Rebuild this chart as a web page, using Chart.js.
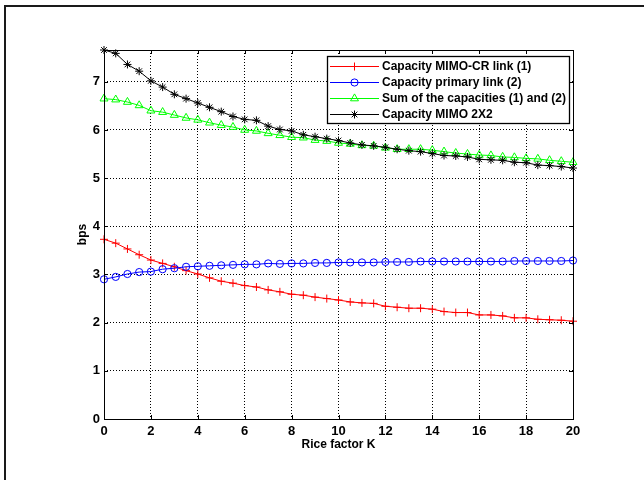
<!DOCTYPE html>
<html><head><meta charset="utf-8">
<script src="https://cdn.jsdelivr.net/npm/chart.js@4.4.1/dist/chart.umd.min.js"></script>
<style>html,body{margin:0;padding:0;background:#fff}canvas{display:block}</style>
</head><body>
<canvas id="c" width="644" height="480"></canvas>
<script>
// ---- data ----
const riceK = [0,0.5,1,1.5,2,2.5,3,3.5,4,4.5,5,5.5,6,6.5,7,7.5,8,8.5,9,9.5,10,10.5,11,11.5,12,12.5,13,13.5,14,14.5,15,15.5,16,16.5,17,17.5,18,18.5,19,19.5,20];
const capMimoCr = [3.73,3.65,3.53,3.41,3.30,3.23,3.16,3.08,3.01,2.93,2.86,2.82,2.77,2.74,2.68,2.64,2.59,2.57,2.53,2.50,2.47,2.43,2.41,2.40,2.34,2.32,2.30,2.30,2.28,2.23,2.21,2.21,2.16,2.16,2.14,2.10,2.10,2.07,2.06,2.05,2.03];
const capPrimary = [2.90,2.95,3.01,3.05,3.06,3.11,3.13,3.16,3.17,3.18,3.19,3.20,3.21,3.21,3.23,3.22,3.23,3.23,3.24,3.24,3.25,3.25,3.25,3.25,3.26,3.26,3.26,3.27,3.27,3.27,3.27,3.27,3.27,3.27,3.27,3.28,3.28,3.28,3.28,3.28,3.29];
const capSum = [6.65,6.63,6.58,6.51,6.40,6.37,6.31,6.25,6.21,6.15,6.10,6.06,6.00,5.98,5.93,5.89,5.85,5.84,5.79,5.77,5.73,5.71,5.68,5.67,5.63,5.60,5.60,5.60,5.58,5.55,5.52,5.50,5.48,5.47,5.44,5.43,5.41,5.40,5.37,5.35,5.33];
const capMimo2x2 = [7.66,7.59,7.36,7.22,7.02,6.89,6.74,6.65,6.56,6.47,6.38,6.28,6.22,6.20,6.08,6.01,5.98,5.90,5.86,5.82,5.78,5.73,5.69,5.67,5.64,5.60,5.57,5.55,5.51,5.47,5.46,5.44,5.39,5.38,5.37,5.33,5.32,5.27,5.26,5.24,5.21];
const xTicks = [0,2,4,6,8,10,12,14,16,18,20];
const yTicks = [0,1,2,3,4,5,6,7];
const seriesLabels = ['Capacity MIMO-CR link (1)','Capacity primary link (2)','Sum of the capacities (1) and (2)','Capacity MIMO 2X2'];
const xTitle = 'Rice factor K';
const yTitle = 'bps';
const yMax = 7.66;

// ---- styles ----
const FONT = "'Liberation Sans', Arial, Helvetica, sans-serif";
const styles = [
  {color:'#ff0000', pointStyle:'cross', radius:4},
  {color:'#0000ff', pointStyle:'circle', radius:3.6},
  {color:'#00ff00', pointStyle:'triangle', radius:4.6},
  {color:'#000000', pointStyle:'star', radius:4}
];
const series = [capMimoCr, capPrimary, capSum, capMimo2x2];

function drawMarker(ctx, st, x, y){
  if (Chart.helpers && Chart.helpers.drawPoint){
    ctx.save();
    ctx.strokeStyle = st.color; ctx.fillStyle = 'rgba(0,0,0,0)'; ctx.lineWidth = 1;
    Chart.helpers.drawPoint(ctx, {pointStyle: st.pointStyle, radius: st.radius, rotation: 0, borderWidth: 1}, x, y);
    ctx.restore();
  }
}

const decor = {
  id: 'decor',
  beforeDraw(chart){
    const ctx = chart.ctx;
    ctx.save();
    ctx.fillStyle = '#fff'; ctx.fillRect(0,0,chart.width,chart.height);
    ctx.strokeStyle = '#1a1a1a'; ctx.lineWidth = 2;
    ctx.beginPath(); ctx.moveTo(5,6); ctx.lineTo(chart.width,6);
    ctx.moveTo(5,5); ctx.lineTo(5,chart.height); ctx.stroke();
    ctx.restore();
  },
  afterDraw(chart){
    const ctx = chart.ctx, a = chart.chartArea;
    const xs = chart.scales.x, ys = chart.scales.y;
    ctx.save();
    // axes box
    ctx.strokeStyle = '#000'; ctx.lineWidth = 1;
    ctx.strokeRect(Math.round(a.left)+0.5, Math.round(a.top)+0.5, Math.round(a.right-a.left), Math.round(a.bottom-a.top));
    // inward ticks
    ctx.beginPath();
    xTicks.forEach(v=>{ const px = Math.round(xs.getPixelForValue(v))+0.5;
      ctx.moveTo(px,a.bottom); ctx.lineTo(px,a.bottom-4);
      ctx.moveTo(px,a.top); ctx.lineTo(px,a.top+4); });
    yTicks.forEach(v=>{ const py = Math.round(ys.getPixelForValue(v))+0.5;
      ctx.moveTo(a.left,py); ctx.lineTo(a.left+4,py);
      ctx.moveTo(a.right,py); ctx.lineTo(a.right-4,py); });
    ctx.stroke();
    // axis titles
    ctx.fillStyle = '#000';
    ctx.font = 'bold 12px ' + FONT;
    ctx.textAlign = 'center'; ctx.textBaseline = 'middle';
    ctx.fillText(xTitle, (a.left+a.right)/2, 445);
    ctx.save(); ctx.translate(83, (a.top+a.bottom)/2); ctx.rotate(-Math.PI/2);
    ctx.fillText(yTitle, 0, 0); ctx.restore();
    // legend
    const lx = 327, ly = 56, lw = 242, lh = 67;
    ctx.fillStyle = '#fff'; ctx.fillRect(lx, ly, lw, lh);
    ctx.strokeStyle = '#000'; ctx.lineWidth = 1.3;
    ctx.strokeRect(lx+0.5, ly+0.5, lw, lh);
    seriesLabels.forEach((lab,i)=>{
      const y = 66.5 + i*16, st = styles[i];
      ctx.strokeStyle = st.color; ctx.lineWidth = 1;
      ctx.beginPath(); ctx.moveTo(330,y); ctx.lineTo(379,y); ctx.stroke();
      drawMarker(ctx, st, 354.5, y);
      ctx.fillStyle = '#000'; ctx.font = 'bold 12px ' + FONT;
      ctx.textAlign = 'left'; ctx.textBaseline = 'middle';
      ctx.fillText(lab, 382, y+0.5);
    });
    ctx.restore();
  }
};

new Chart(document.getElementById('c'), {
  type: 'line',
  data: {
    datasets: series.map((arr,i)=>({
      label: seriesLabels[i],
      data: riceK.map((k,j)=>({x:k, y:arr[j]})),
      borderColor: styles[i].color,
      backgroundColor: 'rgba(0,0,0,0)',
      borderWidth: 1,
      pointStyle: styles[i].pointStyle,
      pointRadius: styles[i].radius,
      pointBorderColor: styles[i].color,
      pointBackgroundColor: 'rgba(0,0,0,0)',
      pointBorderWidth: 1,
      tension: 0,
      fill: false,
      clip: false,
      order: 3 - i
    }))
  },
  options: {
    responsive: false,
    animation: false,
    devicePixelRatio: 1,
    events: [],
    layout: {padding: {top: 50, right: 71, left: 0, bottom: 0}},
    plugins: {legend: {display: false}, tooltip: {enabled: false}, title: {display: false}},
    scales: {
      x: {
        type: 'linear', min: 0, max: 20,
        afterBuildTicks: s => { s.ticks = xTicks.map(v=>({value:v})); },
        afterFit: s => { s.height = 61; },
        ticks: {font: {family: FONT, size: 13, weight: 'bold'}, color: '#000', padding: 5, maxRotation: 0, autoSkip: false},
        grid: {color: '#000', lineWidth: 1, drawTicks: false, tickLength: 0},
        border: {display: false, dash: [1,2]}
      },
      y: {
        type: 'linear', min: 0, max: yMax,
        afterBuildTicks: s => { s.ticks = yTicks.map(v=>({value:v})); },
        afterFit: s => { s.width = 104; },
        ticks: {font: {family: FONT, size: 13, weight: 'bold'}, color: '#000', padding: 4, autoSkip: false},
        grid: {color: '#000', lineWidth: 1, drawTicks: false, tickLength: 0},
        border: {display: false, dash: [1,2]}
      }
    }
  },
  plugins: [decor]
});
</script>
</body></html>
